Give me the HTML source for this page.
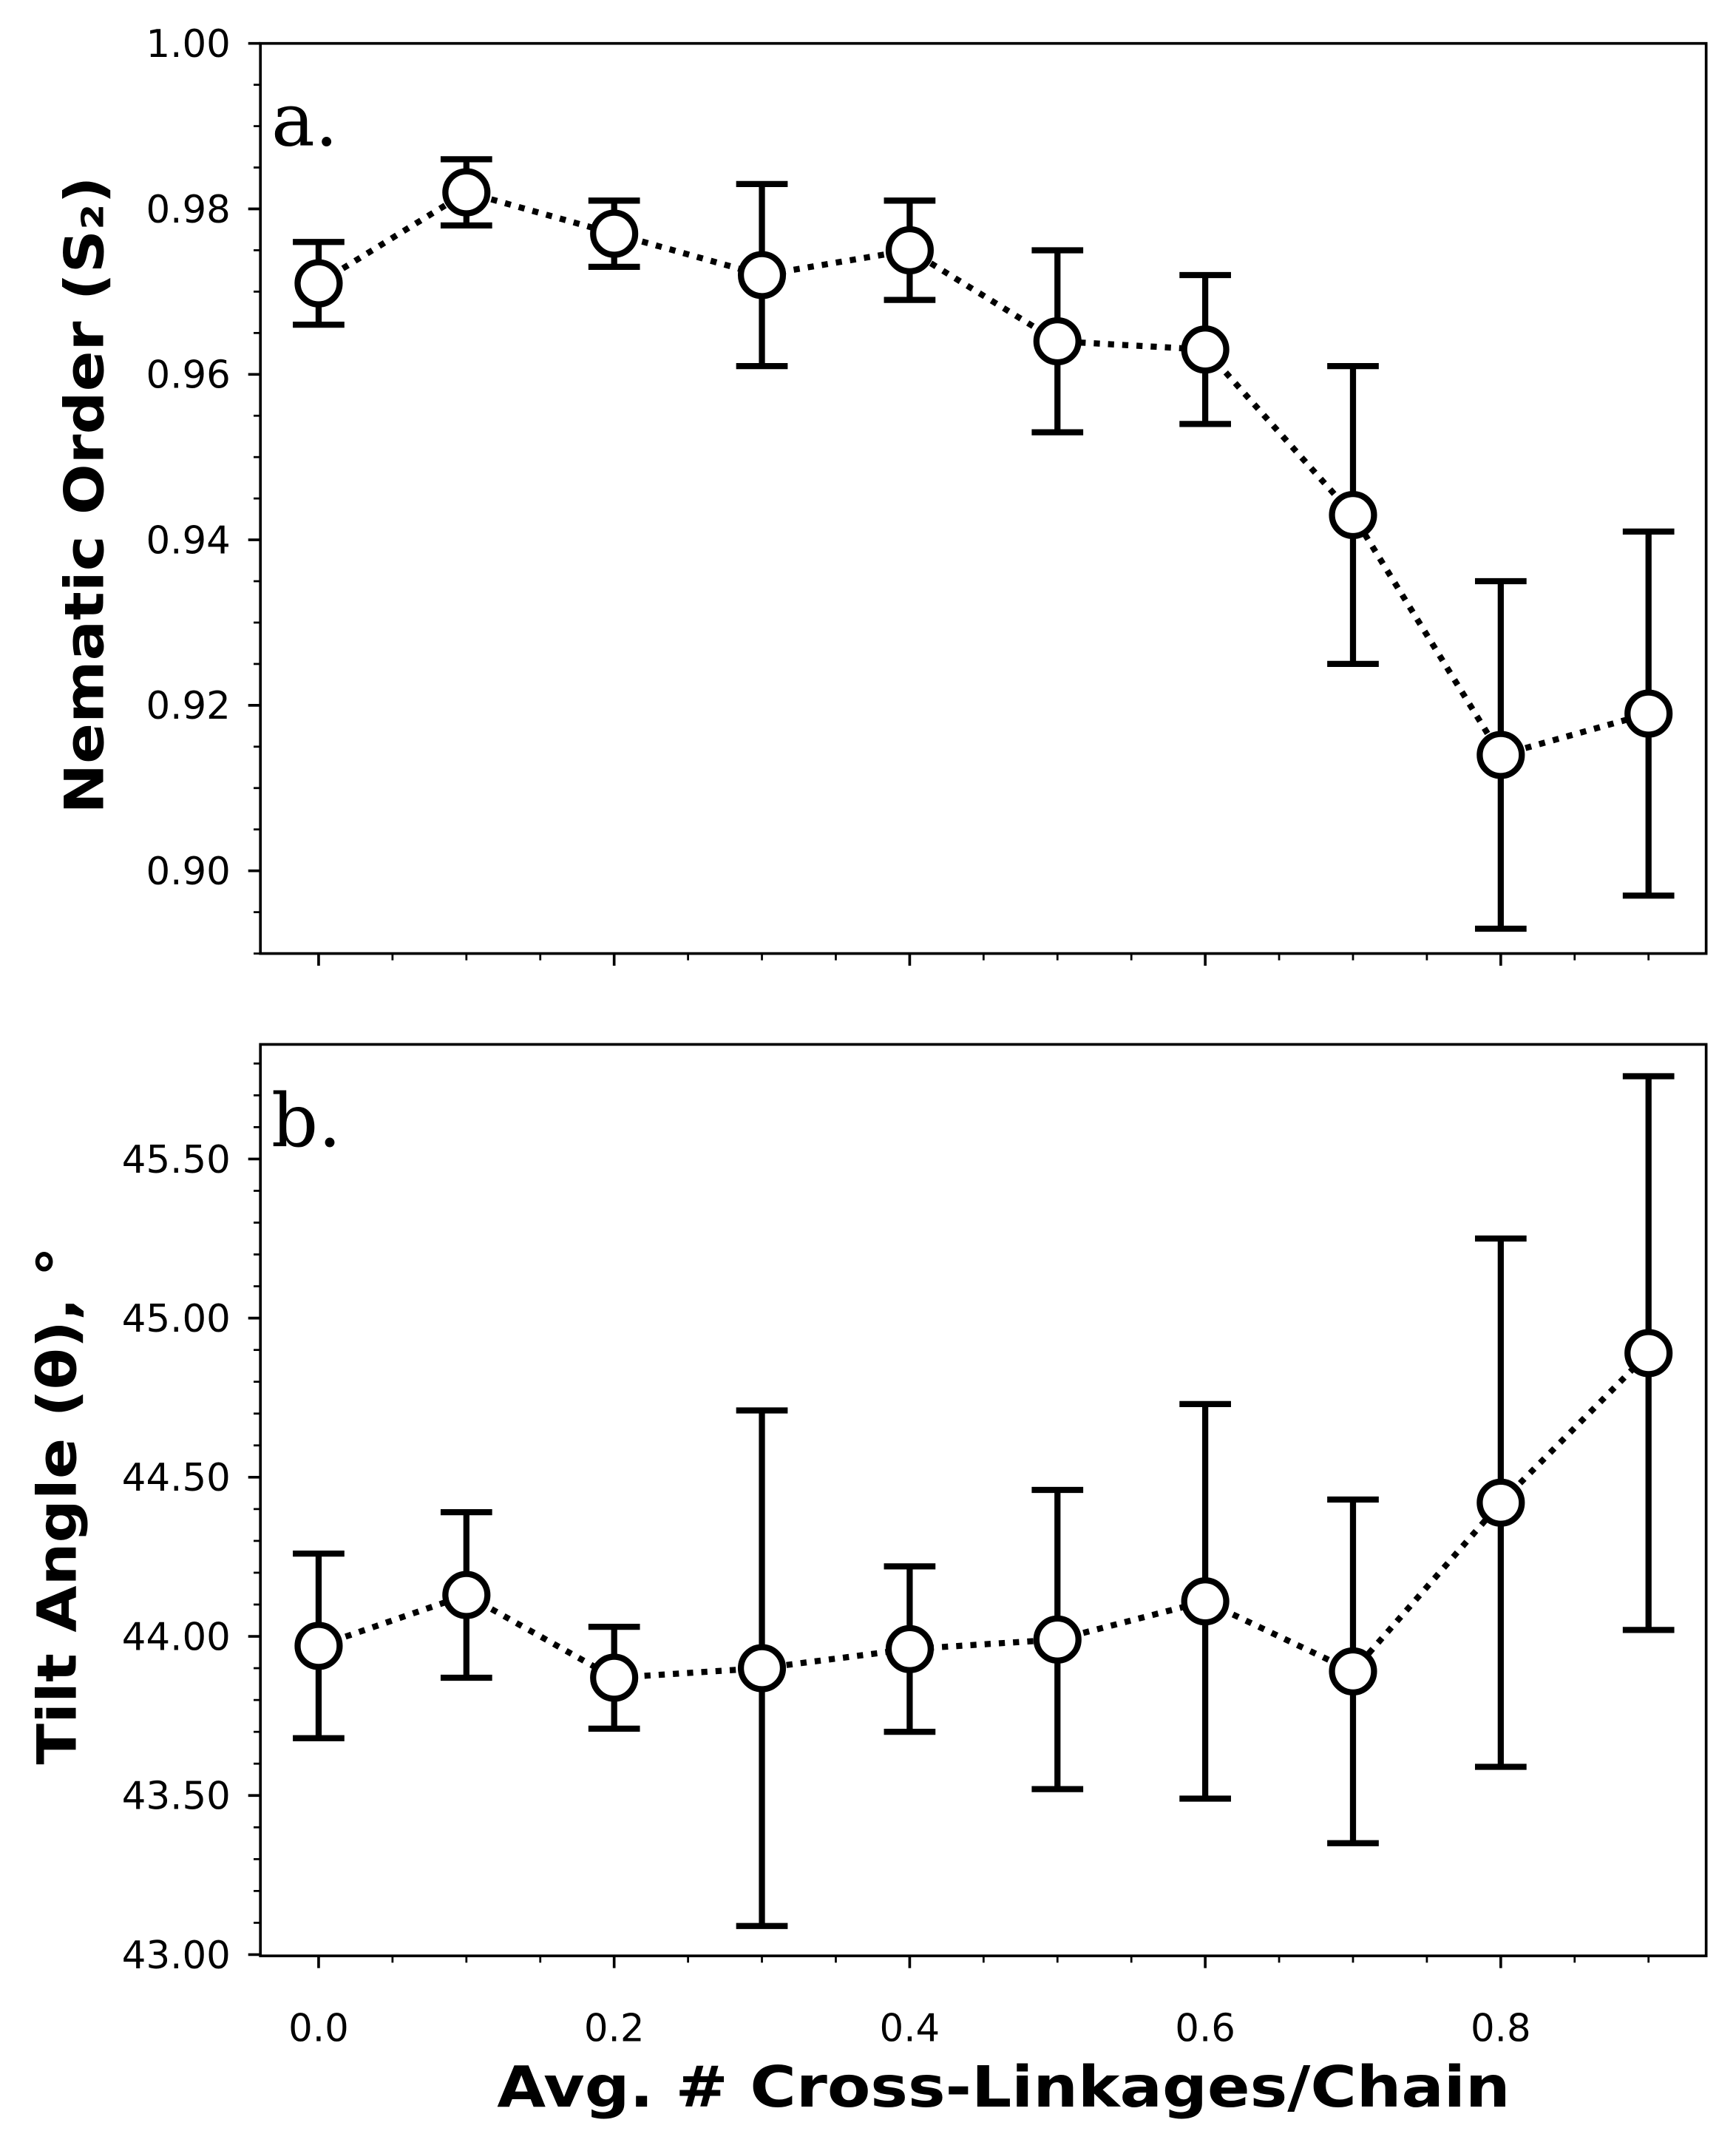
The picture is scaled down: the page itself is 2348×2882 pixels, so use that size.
<!DOCTYPE html>
<html><head><meta charset="utf-8"><style>
html,body{margin:0;padding:0;background:#fff}
svg{display:block}
text{font-family:"DejaVu Sans","Liberation Sans",sans-serif;fill:#000}
</style></head><body>
<svg id="chart" xmlns="http://www.w3.org/2000/svg" width="2348" height="2882" viewBox="0 0 1280 1571.1"></svg>
<script>
const xValues=[0,0.1,0.2,0.3,0.4,0.5,0.6,0.7,0.8,0.9];
const nematicMean=[0.971,0.982,0.977,0.972,0.975,0.964,0.963,0.943,0.914,0.919];
const nematicLow=[0.966,0.978,0.973,0.961,0.969,0.953,0.954,0.925,0.893,0.897];
const nematicHigh=[0.976,0.986,0.981,0.983,0.981,0.975,0.972,0.961,0.935,0.941];
const tiltMean=[43.97,44.13,43.87,43.90,43.96,43.99,44.11,43.89,44.42,44.89];
const tiltLow=[43.68,43.87,43.71,43.09,43.70,43.52,43.49,43.35,43.59,44.02];
const tiltHigh=[44.26,44.39,44.03,44.71,44.22,44.46,44.73,44.43,45.25,45.76];
const xTickLabels=["0.0","0.2","0.4","0.6","0.8"];
const nematicTickLabels=["0.90","0.92","0.94","0.96","0.98","1.00"];
const tiltTickLabels=["43.00","43.50","44.00","44.50","45.00","45.50"];

const NS="http://www.w3.org/2000/svg";
const svg=document.getElementById('chart');
function mk(tag,attrs,parent){const e=document.createElementNS(NS,tag);for(const k in attrs)e.setAttribute(k,attrs[k]);(parent||svg).appendChild(e);return e;}
const L=192,R=1258;
const xmin=-0.0394,xmax=0.939;
const sx=v=>L+(v-xmin)/(xmax-xmin)*(R-L);

function panel(cfg){
  const g=mk('g',{});
  
  
  const sy=v=>cfg.bottom-(v-cfg.ymin)/(cfg.ymax-cfg.ymin)*(cfg.bottom-cfg.top);
  for(let v=cfg.ymin0;v<=cfg.ymax+1e-9;v+=cfg.minor){
    const y=sy(v);if(y<cfg.top-0.5||y>cfg.bottom+0.5)continue;
    const t=mk('line',{x1:L-5,x2:L,y1:y,y2:y,stroke:'#000','stroke-width':1.5},g);
    
    
  }
  cfg.labels.forEach(lab=>{
    const y=sy(parseFloat(lab));
    const t=mk('line',{x1:L-9,x2:L,y1:y,y2:y,stroke:'#000','stroke-width':2},g);
    
    
    const tx=mk('text',{x:L-22,y:y+10,'text-anchor':'end','font-size':28},g);
    tx.textContent=lab;
    
    
  });
  for(let i=0;i<=18;i++){
    const v=i*0.05;const x=sx(v);
    const major=i%4===0;
    const t=mk('line',{x1:x,x2:x,y1:cfg.bottom,y2:cfg.bottom+(major?9:5),stroke:'#000','stroke-width':major?2:1.5},g);
    
    
  }
  if(cfg.xlabels){
    xTickLabels.forEach(lab=>{
      const tx=mk('text',{x:sx(parseFloat(lab)),y:cfg.bottom+63,'text-anchor':'middle','font-size':28},g);
      tx.textContent=lab;
      
      
    });
  }
  const pts=xValues.map((x,i)=>sx(x)+','+sy(cfg.mean[i])).join(' ');
  const pl=mk('polyline',{points:pts,fill:'none',stroke:'#000','stroke-width':4.5,'stroke-dasharray':'4.5 6'},g);
  
  
  xValues.forEach((x,i)=>{
    const X=sx(x);
    const eb=mk('g',{},g);
    
    
    mk('line',{x1:X,x2:X,y1:sy(cfg.low[i]),y2:sy(cfg.high[i]),stroke:'#000','stroke-width':4.5},eb);
    mk('line',{x1:X-19,x2:X+19,y1:sy(cfg.low[i]),y2:sy(cfg.low[i]),stroke:'#000','stroke-width':4.5},eb);
    mk('line',{x1:X-19,x2:X+19,y1:sy(cfg.high[i]),y2:sy(cfg.high[i]),stroke:'#000','stroke-width':4.5},eb);
  });
  xValues.forEach((x,i)=>{
    const c=mk('circle',{cx:sx(x),cy:sy(cfg.mean[i]),r:15.5,fill:'#fff',stroke:'#000','stroke-width':4.5},g);
    
    
  });
  const fr=mk('rect',{x:L,y:cfg.top,width:R-L,height:cfg.bottom-cfg.top,fill:'none',stroke:'#000','stroke-width':2},g);
  
  
  const pl2=mk('text',{x:200,y:cfg.top+75,'font-size':54,style:'font-family:"DejaVu Serif","Liberation Serif",serif'},g);
  pl2.textContent=cfg.panelLabel;
  
  
  const yt=mk('text',{x:0,y:0,'text-anchor':'middle','font-size':40,'font-weight':'bold',textLength:cfg.ylen,lengthAdjust:'spacingAndGlyphs',transform:`translate(${cfg.ytx},${cfg.yty}) rotate(-90)`},g);
  yt.textContent=cfg.ytitle;
  
  
}
panel({name:'panel-a-nematic-order',top:32,bottom:703,ymin:0.89,ymax:1.0,ymin0:0.89,minor:0.005,labels:nematicTickLabels,
  mean:nematicMean,low:nematicLow,high:nematicHigh,xlabels:false,panelLabel:'a.',ytitle:'Nematic Order (S₂)',ytx:76,yty:365,ylen:470});
panel({name:'panel-b-tilt-angle',top:770,bottom:1442,ymin:42.996,ymax:45.86,ymin0:43.0,minor:0.1,labels:tiltTickLabels,
  mean:tiltMean,low:tiltLow,high:tiltHigh,xlabels:true,panelLabel:'b.',ytitle:'Tilt Angle (θ), °',ytx:56,yty:1110,ylen:382});
const xt=mk('text',{x:740,y:1553,'text-anchor':'middle','font-size':42,'font-weight':'bold',textLength:747,lengthAdjust:'spacingAndGlyphs'});
xt.textContent='Avg. # Cross-Linkages/Chain';


</script>
</body></html>
